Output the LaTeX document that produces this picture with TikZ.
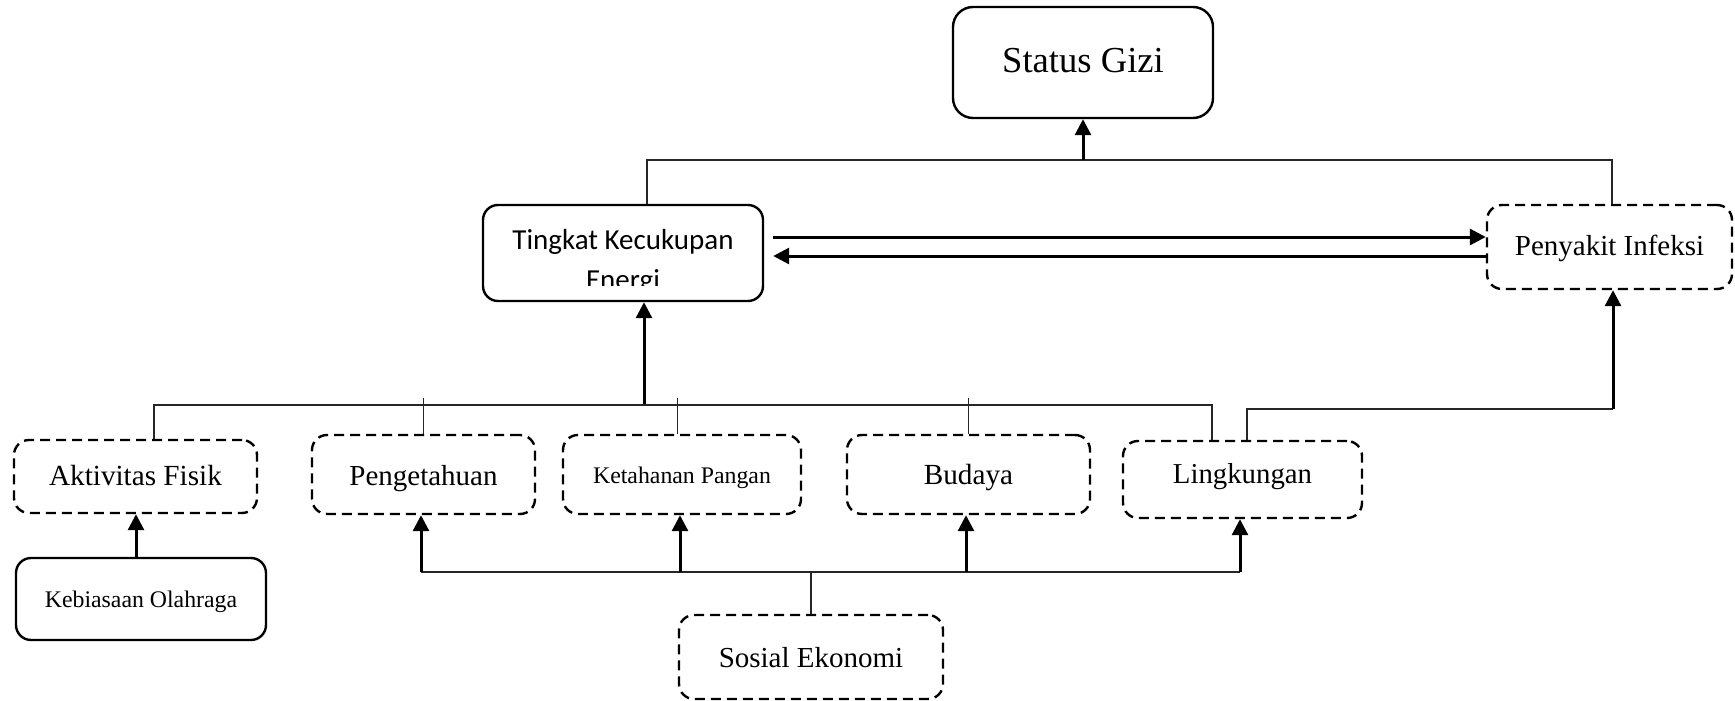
\documentclass[tikz,border=0pt]{standalone}
\usepackage{fontspec}
\setmainfont{Liberation Serif}
\newfontfamily\calibfont{Carlito}
\usetikzlibrary{arrows.meta,calc}
\newcommand\bl[2]{\raisebox{-#1pt}[0pt][0pt]{#2}}
\begin{document}
\begin{tikzpicture}[x=0.5pt,y=-0.5pt,
  box/.style={draw, rounded corners=7.5pt, line width=1.2pt, inner sep=0pt, align=center},
  dbox/.style={box, dash pattern=on 5pt off 3pt},
  conn/.style={line width=0.6pt, draw=black!85},
  arr/.style={line width=1.5pt, -{Triangle[length=8pt,width=8pt]}},
  fs/.style={font=\fontsize{#1}{#1}\selectfont}]
\useasboundingbox (0,0) rectangle (1735,701);
% nodes
\node[box, rounded corners=10pt, minimum width=130pt, minimum height=55.5pt, fs=18.3] (status) at (1083,62.5) {\bl{5.25}{Status Gizi}};
\node[box, minimum width=140pt, minimum height=48pt] (tingkat) at (623,253) {};
\begin{scope}
\clip (483,200) rectangle (763,285);
\node[font=\calibfont\fontsize{14.5}{20}\selectfont, align=center, anchor=base, inner sep=0pt] (tingkattxt) at (623,289) {Tingkat Kecukupan\\Energi};
\end{scope}
\node[dbox, minimum width=122.5pt, minimum height=42pt, fs=14.5] (penyakit) at (1609.5,247) {\bl{4}{Penyakit Infeksi}};
\node[dbox, minimum width=121.5pt, minimum height=36.5pt, fs=14.6] (aktivitas) at (135.5,476.5) {\bl{4.5}{Aktivitas Fisik}};
\node[dbox, minimum width=111.5pt, minimum height=39.5pt, fs=14.5] (pengetahuan) at (423.5,474.5) {\bl{5.25}{Pengetahuan}};
\node[dbox, minimum width=119pt, minimum height=39.5pt, fs=11.9] (ketahanan) at (682,474.5) {\bl{4.25}{Ketahanan Pangan}};
\node[dbox, minimum width=121.5pt, minimum height=39.5pt, fs=14.6] (budaya) at (968.5,474.5) {\bl{4.75}{Budaya}};
\node[dbox, minimum width=119.5pt, minimum height=38.5pt, fs=14.4] (lingkungan) at (1242.5,479.5) {\bl{1.75}{Lingkungan}};
\node[box, minimum width=125pt, minimum height=41pt, fs=11.9] (kebiasaan) at (141,599) {\bl{4}{Kebiasaan Olahraga}};
\node[dbox, minimum width=132pt, minimum height=42pt, fs=14.5] (sosial) at (811,657) {\bl{5}{Sosial Ekonomi}};
% coordinates
\coordinate (tl) at (647,160);
\coordinate (tr) at (1612,160);
\coordinate (a1) at (772,237);
\coordinate (a2) at (772,256);
\coordinate (mj) at (644,405);
\coordinate (ml) at (154,405);
\coordinate (mr) at (1212,405);
\coordinate (kx) at (136,0);
\coordinate (bl) at (421,572);
\coordinate (br) at (1240,572);
\coordinate (bk) at (680,572);
\coordinate (bb) at (966,572);
\coordinate (lx) at (1247,0);
\coordinate (rc) at (1613,409);
% top
\draw[conn] (tingkat.north -| tl) -- (tl) -- (tr) -- (penyakit.north -| tr);
\draw[arr] (status.south |- tl) -- (status.south);
% between
\draw[arr] (tingkat.east |- a1) ++(9,0) -- (penyakit.west |- a1);
\draw[arr] (penyakit.west |- a2) -- ($(tingkat.east |- a2)+(9,0)$);
% middle
\draw[arr] (mj) -- (tingkat.south -| mj);
\draw[conn] (aktivitas.north -| ml) -- (ml) -- (mr) -- (lingkungan.north -| mr);
\draw[conn] ($(pengetahuan.north |- ml)+(0,-7)$) -- (pengetahuan.north);
\draw[conn] ($(ketahanan.north |- ml)+(-4.5,-7)$) -- ($(ketahanan.north)+(-4.5,0)$);
\draw[conn] ($(budaya.north |- ml)+(0,-7)$) -- (budaya.north);
% kebiasaan
\draw[arr] (kebiasaan.north -| kx) -- (aktivitas.south -| kx);
% bottom
\draw[conn] (bl) -- (br);
\draw[conn] (sosial.north) -- (sosial.north |- bl);
\draw[arr] (bl) -- (pengetahuan.south -| bl);
\draw[arr] (bk) -- (ketahanan.south -| bk);
\draw[arr] (bb) -- (budaya.south -| bb);
\draw[arr] (br) -- (lingkungan.south -| br);
% lingkungan to penyakit
\draw[conn] (lingkungan.north -| lx) |- (rc);
\draw[arr] (rc) -- (penyakit.south -| rc);
\end{tikzpicture}
\end{document}
